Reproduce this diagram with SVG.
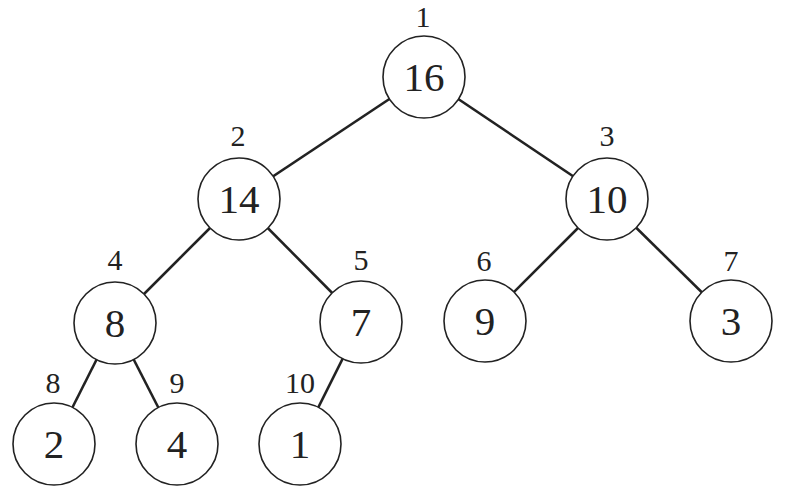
<svg xmlns="http://www.w3.org/2000/svg" width="799" height="497" viewBox="0 0 799 497">
<style>
.c{fill:#fff;stroke:#222;stroke-width:1.6}
.v{font-family:"Liberation Serif",serif;font-size:41px;fill:#222;text-anchor:middle}
.i{font-family:"Liberation Serif",serif;font-size:30px;fill:#222;text-anchor:middle}
.e line{stroke:#222;stroke-width:2.6}
</style>
<rect width="799" height="497" fill="#fff"/>
<g class="e" id="edges">
<line x1="424" y1="76" x2="239" y2="199"/>
<line x1="424" y1="76" x2="607" y2="199"/>
<line x1="239" y1="199" x2="115" y2="323"/>
<line x1="239" y1="199" x2="361" y2="322"/>
<line x1="607" y1="199" x2="485" y2="321"/>
<line x1="607" y1="199" x2="731" y2="321"/>
<line x1="115" y1="323" x2="54" y2="444"/>
<line x1="115" y1="323" x2="177" y2="444"/>
<line x1="361" y1="322" x2="300" y2="444"/>
</g>
<g id="n1"><circle class="c" cx="424" cy="77" r="41"/><text class="v" x="424" y="91">16</text><text class="i" x="423" y="27">1</text></g>
<g id="n2"><circle class="c" cx="239" cy="199" r="41"/><text class="v" x="239" y="213">14</text><text class="i" x="238" y="146">2</text></g>
<g id="n3"><circle class="c" cx="607" cy="199" r="41"/><text class="v" x="607" y="213">10</text><text class="i" x="607" y="146">3</text></g>
<g id="n4"><circle class="c" cx="115" cy="323" r="41"/><text class="v" x="115" y="337">8</text><text class="i" x="115" y="270">4</text></g>
<g id="n5"><circle class="c" cx="361" cy="322" r="41"/><text class="v" x="361" y="336">7</text><text class="i" x="361" y="270">5</text></g>
<g id="n6"><circle class="c" cx="485" cy="321" r="41"/><text class="v" x="485" y="335">9</text><text class="i" x="484" y="271">6</text></g>
<g id="n7"><circle class="c" cx="731" cy="321" r="41"/><text class="v" x="731" y="335">3</text><text class="i" x="731" y="271">7</text></g>
<g id="n8"><circle class="c" cx="54" cy="444" r="41"/><text class="v" x="54" y="458">2</text><text class="i" x="53" y="393">8</text></g>
<g id="n9"><circle class="c" cx="177" cy="444" r="41"/><text class="v" x="177" y="458">4</text><text class="i" x="177" y="393">9</text></g>
<g id="n10"><circle class="c" cx="300" cy="444" r="41"/><text class="v" x="300" y="458">1</text><text class="i" x="300" y="393">10</text></g>
</svg>
